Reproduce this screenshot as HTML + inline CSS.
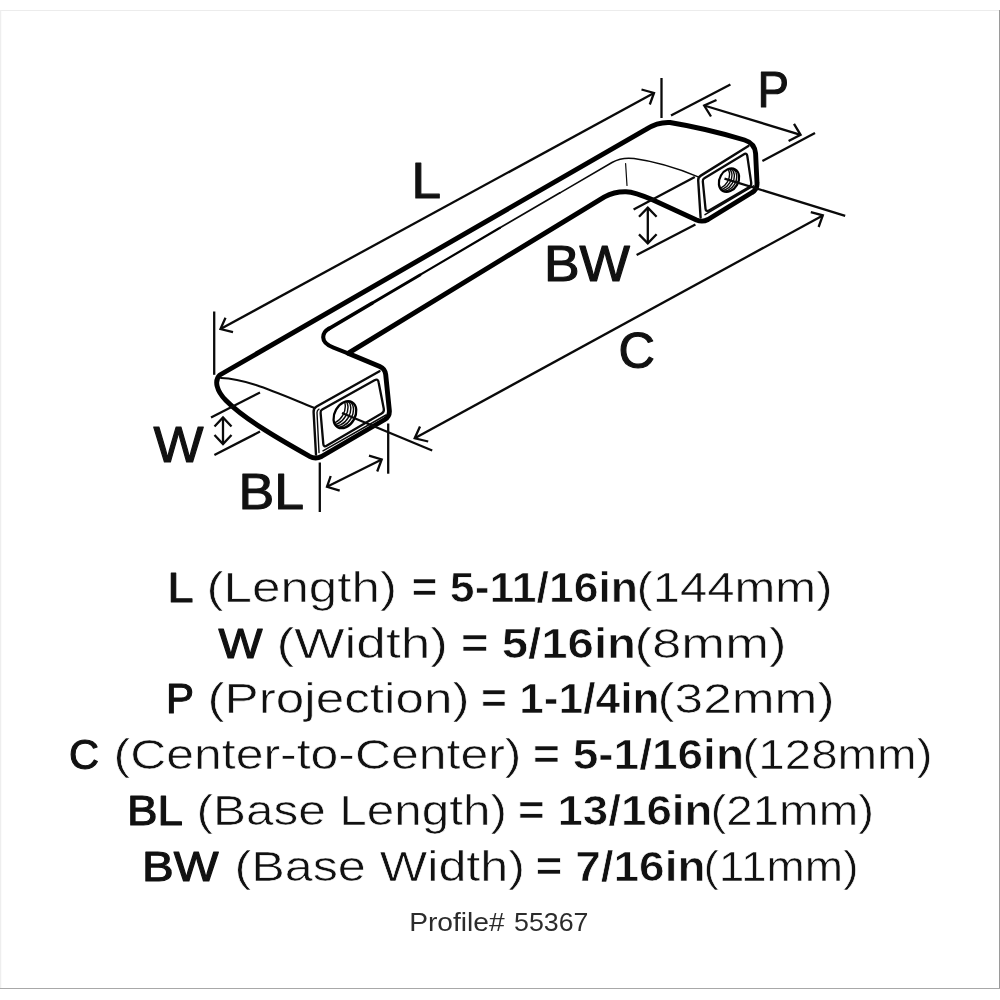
<!DOCTYPE html>
<html>
<head>
<meta charset="utf-8">
<title>Pull dimensions – Profile# 55367</title>
<style>
html,body{margin:0;padding:0;background:#fff;}
body{width:1000px;height:1000px;overflow:hidden;position:relative;font-family:"Liberation Sans",sans-serif;}
svg{position:absolute;left:0;top:0;display:block;}
text{font-family:"Liberation Sans",sans-serif;fill:#111;}
.lbl{font-size:49.4px;stroke:#111;stroke-width:1.1px;stroke-linejoin:round;}
.r{font-size:43px;font-weight:400;stroke:#fff;stroke-width:0.6px;}
.m{font-size:43px;font-weight:400;stroke:#111;stroke-width:1.1px;stroke-linejoin:round;}
.b{font-size:43px;font-weight:700;stroke:#fff;stroke-width:0.7px;}
.pf{font-size:25px;fill:#2c2c2c;}
.bold{fill:none;stroke:#000;stroke-width:4.9;stroke-linecap:round;stroke-linejoin:round;}
.med{fill:none;stroke:#000;stroke-width:2.5;stroke-linecap:round;stroke-linejoin:round;}
.thin{fill:none;stroke:#0a0a0a;stroke-width:1.4;stroke-linecap:round;stroke-linejoin:round;}
.dim{fill:none;stroke:#0a0a0a;stroke-width:2.3;stroke-linecap:butt;stroke-linejoin:miter;}
</style>
</head>
<body>
<svg width="1000" height="1000" viewBox="0 0 1000 1000">
<!-- frame -->
<rect x="0" y="0" width="1000" height="1000" fill="#fff"/>
<line x1="0" y1="10.5" x2="1000" y2="10.5" stroke="#ececec" stroke-width="1"/>
<line x1="0.5" y1="10" x2="0.5" y2="988" stroke="#eeeeee" stroke-width="1.5"/>
<line x1="999.5" y1="10" x2="999.5" y2="988" stroke="#9a9a9a" stroke-width="1"/>
<line x1="0" y1="988.5" x2="1000" y2="988.5" stroke="#a8a8a8" stroke-width="1.2"/>

<g id="drawing" style="filter:blur(0.45px)">
<!-- ===== handle body ===== -->
<!-- outer silhouette (heavy) -->
<path class="bold" d="M219.8 375 L646 129.3 Q658 121.8 670 122.5 C690 125.8 722 133.2 744.5 140 Q754.8 143.2 755.6 153.5 L757 183 Q757.5 189.5 752 192.5 L708 219.5 Q702.5 222.5 696.5 220 L652.5 199.8 C642 195.2 634 191.9 626 191.7 C617.5 191.5 611 193.3 604.5 196.8 L348 353.3 L379.8 366.4 Q385 368.6 385.7 374.5 L389.3 410 Q390 416.4 384.8 419.5 L321.5 456.5 Q315.5 459.5 309.5 456.3 C285 442.5 245 420 226 400.5 C216.5 391 214 380.5 219.8 375 Z"/>
<!-- inside corner of left leg -->
<path class="bold" d="M348 353.3 L333.5 347.6 Q323.2 343.6 323.2 337.2 Q323.2 332 329 328.6" style="stroke-width:4.1"/>
<!-- inner edge of the bar -->
<path class="med" d="M329 328.6 L372 303.3" style="stroke-width:3.6"/><path class="med" d="M372 303.3 L420 274.9" style="stroke-width:2.9"/><path class="med" d="M420 274.9 L500 227.8" style="stroke-width:2.2"/>
<path class="thin" d="M500 227.8 L560 192.8" style="stroke-width:1.7"/><path class="thin" d="M560 192.8 L612 162.5 Q622 157 634 158.6 C655 161.5 678 168.5 698.2 176.9" style="stroke-width:1.5"/>
<path class="thin" d="M625.6 163.5 L627 185.5" style="stroke-width:1.2"/>
<!-- top edge of left end cap -->
<path class="thin" d="M221 378 C246 378.5 276 392.5 314.5 408" style="stroke-width:2"/>

<!-- ===== left base face ===== -->
<path class="thin" d="M316 454.5 L313.6 412 Q313.4 408.3 316.6 406.5 L379.5 371.2" style="stroke-width:2.4"/>
<path class="thin" d="M319 452.5 L317 412.5 Q317 410.3 319 409.2" style="stroke-width:1.4"/>
<path class="thin" d="M323 450.8 L386 415" style="stroke-width:1.5"/>
<path class="thin" d="M322.2 409.6 L374.5 380.2 Q378 378.3 378.6 382.2 L383.8 408.8 Q384.4 412 381.6 413.6 L327 445.6 Q323.6 447.6 323.3 443.8 L320.6 412.8 Q320.4 410.6 322.2 409.6 Z" style="stroke-width:2.3"/>
<!-- hole -->
<clipPath id="hcl"><ellipse cx="344.9" cy="414.7" rx="10.2" ry="14.4" transform="rotate(30 344.9 414.7)"/></clipPath>
<ellipse cx="344.9" cy="414.7" rx="10.2" ry="14.4" transform="rotate(30 344.9 414.7)" fill="#fff"/>
<g clip-path="url(#hcl)" fill="none" stroke="#0a0a0a" stroke-width="1.45">
<ellipse cx="342.1" cy="413.6" rx="10.2" ry="14.4" transform="rotate(30 342.1 413.6)"/>
<ellipse cx="339.4" cy="412.5" rx="10.2" ry="14.4" transform="rotate(30 339.4 412.5)"/>
<ellipse cx="336.6" cy="411.3" rx="10.2" ry="14.4" transform="rotate(30 336.6 411.3)"/>
<ellipse cx="333.9" cy="410.2" rx="10.2" ry="14.4" transform="rotate(30 333.9 410.2)"/>
</g>
<ellipse cx="344.9" cy="414.7" rx="10.2" ry="14.4" transform="rotate(30 344.9 414.7)" fill="none" stroke="#000" stroke-width="2.3"/>

<!-- ===== right base face ===== -->
<path class="thin" d="M700.6 217.5 L698.2 180.5 Q698 177.3 700.8 175.6 L748.4 146" style="stroke-width:2.4"/>
<path class="thin" d="M705 214.6 L753.6 185.8" style="stroke-width:1.5"/>
<path class="thin" d="M704.3 178.3 L743.6 154.4 Q746.8 152.5 747.3 156 L751.2 182.6 Q751.6 185.6 749 187.2 L709 210.4 Q705.8 212.2 705.5 208.6 L702.8 181.4 Q702.6 179.3 704.3 178.3 Z" style="stroke-width:2.3"/>
<clipPath id="hcr"><ellipse cx="729" cy="180.2" rx="9.3" ry="12.4" transform="rotate(30 729 180.2)"/></clipPath>
<ellipse cx="729" cy="180.2" rx="9.3" ry="12.4" transform="rotate(30 729 180.2)" fill="#fff"/>
<g clip-path="url(#hcr)" fill="none" stroke="#0a0a0a" stroke-width="1.4">
<ellipse cx="726.6" cy="179.5" rx="9.3" ry="12.4" transform="rotate(30 726.6 179.5)"/>
<ellipse cx="724.2" cy="178.8" rx="9.3" ry="12.4" transform="rotate(30 724.2 178.8)"/>
<ellipse cx="721.8" cy="178.0" rx="9.3" ry="12.4" transform="rotate(30 721.8 178.0)"/>
<ellipse cx="719.4" cy="177.3" rx="9.3" ry="12.4" transform="rotate(30 719.4 177.3)"/>
</g>
<ellipse cx="729" cy="180.2" rx="9.3" ry="12.4" transform="rotate(30 729 180.2)" fill="none" stroke="#000" stroke-width="2.2"/>

<!-- ===== centre lines through the screw holes ===== -->
<path class="dim" d="M342 413 L432.2 450.5"/>
<path class="dim" d="M724.5 178.6 L845.2 215.8"/>

<!-- ===== L dimension ===== -->
<path class="dim" d="M214.2 311.5 V374.8"/>
<path class="dim" d="M661.5 78 V118"/>
<path class="dim" d="M220.5 329 L654 93"/>
<path class="dim" d="M225.5 317.8 L220.5 329 L233 332.2"/>
<path class="dim" d="M641.5 89.5 L654 93 L649.8 104.5"/>

<!-- ===== P dimension ===== -->
<path class="dim" d="M671 115.6 L730.4 84.4"/>
<path class="dim" d="M762.4 161 L815 133"/>
<path class="dim" d="M704.2 105.5 L800.6 134.8"/>
<path class="dim" d="M716.5 100 L704.2 105.5 L711 116.5"/>
<path class="dim" d="M794 123.8 L800.6 134.8 L788.6 141"/>

<!-- ===== C dimension ===== -->
<path class="dim" d="M414.7 438.3 L822.8 215.4"/>
<path class="dim" d="M420 426.5 L414.7 438.3 L428.2 441.5"/>
<path class="dim" d="M810.8 212.2 L822.8 215.4 L818.6 227"/>

<!-- ===== BW dimension ===== -->
<path class="dim" d="M633.6 209.4 L694.8 177"/>
<path class="dim" d="M636.6 255 L695.4 224.4"/>
<path class="dim" d="M647.8 207.6 V243.4"/>
<path class="dim" d="M639 216.8 L647.8 207.6 L656.6 216.8"/>
<path class="dim" d="M639 234.4 L647.8 243.4 L656.6 234.2"/>

<!-- ===== W dimension ===== -->
<path class="dim" d="M211 417.5 L260 392.5"/>
<path class="dim" d="M214.4 455 L260 431.6"/>
<path class="dim" d="M223 417.5 V444"/>
<path class="dim" d="M214.5 426.5 L223 417.5 L231.5 426.5"/>
<path class="dim" d="M214.5 435 L223 444 L231.5 435"/>

<!-- ===== BL dimension ===== -->
<path class="dim" d="M319.8 462.5 V512"/>
<path class="dim" d="M388.2 423.5 V473.7"/>
<path class="dim" d="M327 486.8 L381.7 459.5"/>
<path class="dim" d="M330.7 476 L327 486.8 L339.7 490.7"/>
<path class="dim" d="M369 455.7 L381.7 459.5 L377.2 471.5"/>
</g>

<g id="labels" style="filter:blur(0.4px)">
<text class="lbl" x="411.5" y="197.7" textLength="29.5" lengthAdjust="spacingAndGlyphs">L</text>
<text class="lbl" x="757.5" y="106.6" textLength="31.5" lengthAdjust="spacingAndGlyphs">P</text>
<text class="lbl" x="544" y="280.6" textLength="86" lengthAdjust="spacingAndGlyphs">BW</text>
<text class="lbl" x="618.5" y="367.5" textLength="36.5" lengthAdjust="spacingAndGlyphs">C</text>
<text class="lbl" x="153.5" y="461.6" textLength="50" lengthAdjust="spacingAndGlyphs">W</text>
<text class="lbl" x="238.5" y="508.6" textLength="65.5" lengthAdjust="spacingAndGlyphs">BL</text>
</g>

<g id="legend" style="filter:blur(0.4px)">
<!-- line 1 -->
<text class="m" x="167.5" y="602" textLength="26" lengthAdjust="spacingAndGlyphs">L</text>
<text class="r" x="206.5" y="602" textLength="190.5" lengthAdjust="spacingAndGlyphs">(Length)</text>
<text class="b" x="411.5" y="602" textLength="226.5" lengthAdjust="spacingAndGlyphs">= 5-11/16in</text>
<text class="r" x="636.5" y="602" textLength="196" lengthAdjust="spacingAndGlyphs">(144mm)</text>
<!-- line 2 -->
<text class="m" x="218.5" y="657.5" textLength="44" lengthAdjust="spacingAndGlyphs">W</text>
<text class="r" x="276.5" y="657.5" textLength="171.5" lengthAdjust="spacingAndGlyphs">(Width)</text>
<text class="b" x="461" y="657.5" textLength="175" lengthAdjust="spacingAndGlyphs">= 5/16in</text>
<text class="r" x="634.5" y="657.5" textLength="152" lengthAdjust="spacingAndGlyphs">(8mm)</text>
<!-- line 3 -->
<text class="m" x="166" y="713" textLength="28" lengthAdjust="spacingAndGlyphs">P</text>
<text class="r" x="207.5" y="713" textLength="262" lengthAdjust="spacingAndGlyphs">(Projection)</text>
<text class="b" x="481" y="713" textLength="178.5" lengthAdjust="spacingAndGlyphs">= 1-1/4in</text>
<text class="r" x="657.5" y="713" textLength="177" lengthAdjust="spacingAndGlyphs">(32mm)</text>
<!-- line 4 -->
<text class="m" x="69" y="769" textLength="30" lengthAdjust="spacingAndGlyphs">C</text>
<text class="r" x="113.5" y="769" textLength="408" lengthAdjust="spacingAndGlyphs">(Center-to-Center)</text>
<text class="b" x="533" y="769" textLength="211" lengthAdjust="spacingAndGlyphs">= 5-1/16in</text>
<text class="r" x="742.5" y="769" textLength="190" lengthAdjust="spacingAndGlyphs">(128mm)</text>
<!-- line 5 -->
<text class="m" x="127" y="825" textLength="56" lengthAdjust="spacingAndGlyphs">BL</text>
<text class="r" x="196.5" y="825" textLength="310.5" lengthAdjust="spacingAndGlyphs">(Base Length)</text>
<text class="b" x="518" y="825" textLength="194.5" lengthAdjust="spacingAndGlyphs">= 13/16in</text>
<text class="r" x="710.5" y="825" textLength="163.5" lengthAdjust="spacingAndGlyphs">(21mm)</text>
<!-- line 6 -->
<text class="m" x="142" y="880.5" textLength="76.5" lengthAdjust="spacingAndGlyphs">BW</text>
<text class="r" x="234.5" y="880.5" textLength="290.5" lengthAdjust="spacingAndGlyphs">(Base Width)</text>
<text class="b" x="535.5" y="880.5" textLength="170" lengthAdjust="spacingAndGlyphs">= 7/16in</text>
<text class="r" x="703.5" y="880.5" textLength="155" lengthAdjust="spacingAndGlyphs">(11mm)</text>
<!-- profile -->
<text class="pf" x="409.2" y="930.5" textLength="95.5" lengthAdjust="spacingAndGlyphs">Profile#</text>
<text class="pf" x="514" y="930.5" textLength="74.5" lengthAdjust="spacingAndGlyphs">55367</text>
</g>
</svg>
</body>
</html>
